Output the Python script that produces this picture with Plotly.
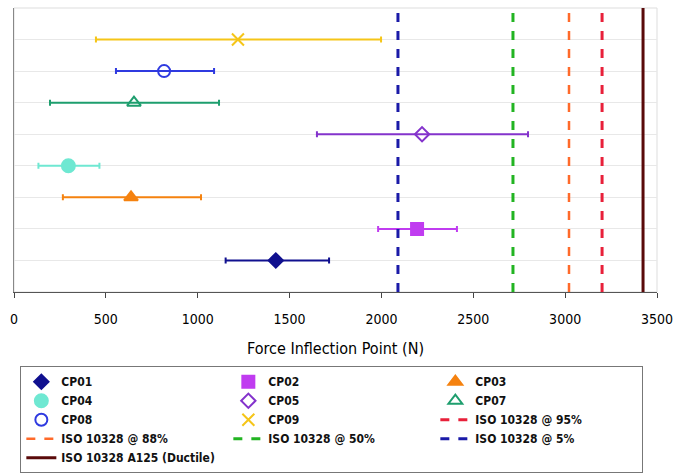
import plotly.graph_objects as go

# ---- data ----
names = ["CP01", "CP02", "CP03", "CP04", "CP05", "CP07", "CP08", "CP09"]
rows = [1, 2, 3, 4, 5, 6, 7, 8]
centers = [1425, 2194, 637, 296, 2221, 653, 817, 1219]
lows = [1152, 1982, 266, 133, 1649, 196, 555, 446]
highs = [1715, 2411, 1018, 465, 2798, 1116, 1089, 1998]

ref_names = ["ISO 10328 @ 95%", "ISO 10328 @ 88%", "ISO 10328 @ 50%",
             "ISO 10328 @ 5%", "ISO 10328 A125 (Ductile)"]
ref_values = [3201, 3021, 2716, 2090, 3424]

x_ticks = [0, 500, 1000, 1500, 2000, 2500, 3000, 3500]

# ---- styles ----
colors = ["#10108f", "#c03cf0", "#f5820f", "#6fe8d2", "#8433cc", "#1e9e6e", "#2f3ae0", "#f5c518"]
symbols = ["diamond", "square", "triangle-up", "circle", "diamond-open",
           "triangle-up-open", "circle-open", "x-thin-open"]
sizes = [11, 12, 12, 13, 11, 12, 12, 12]
ref_colors = ["#e8203a", "#ff6a2a", "#22b422", "#1a1aa8", "#5a0a0a"]
ref_dash = ["dash", "dash", "dash", "dash", "solid"]
ref_width = [3, 2.5, 3, 3, 3]

fig = go.Figure()

for i in range(len(names)):
    fig.add_trace(go.Scatter(
        x=[centers[i]], y=[rows[i]], mode="markers", name=names[i],
        marker=dict(symbol=symbols[i], color=colors[i], size=sizes[i],
                    line=dict(color=colors[i], width=2)),
        error_x=dict(type="data", symmetric=False,
                     array=[highs[i] - centers[i]],
                     arrayminus=[centers[i] - lows[i]],
                     color=colors[i], thickness=2, width=3),
    ))

for j in range(len(ref_names)):
    fig.add_trace(go.Scatter(
        x=[ref_values[j], ref_values[j]], y=[0, 9], mode="lines",
        name=ref_names[j],
        line=dict(color=ref_colors[j], dash=ref_dash[j], width=ref_width[j]),
    ))

fig.update_layout(
    width=678, height=475,
    margin=dict(l=14, r=21, t=8, b=183, autoexpand=False),
    plot_bgcolor="white", paper_bgcolor="white",
    font=dict(family="DejaVu Sans Condensed, DejaVu Sans", size=13, color="#111111"),
    showlegend=True,
    legend=dict(
        orientation="h", x=0.03, y=0.229, xref="container", yref="container",
        xanchor="left", yanchor="top",
        bordercolor="#777777", borderwidth=1,
        entrywidth=162, entrywidthmode="pixels",
        font=dict(family="DejaVu Sans Condensed, DejaVu Sans", size=12, color="#111111",
                  weight="bold"),
        tracegroupgap=0, itemwidth=30,
    ),
    xaxis=dict(
        range=[0, 3500], tickvals=x_ticks, ticks="outside", ticklen=5,
        tickcolor="#444444", showgrid=False, zeroline=False,
        showline=True, linecolor="#555555", linewidth=1, mirror=False,
        ticklabelstandoff=9,
        title=dict(text="Force Inflection Point (N)", font=dict(size=16, color="#000000"), standoff=17),
        tickfont=dict(size=14, color="#000000"),
    ),
    yaxis=dict(
        range=[0, 9], dtick=1, showticklabels=False, showgrid=True,
        gridcolor="#e8e8e8", zeroline=False, showline=True,
        linecolor="#888888", linewidth=1, ticks="",
    ),
    shapes=[dict(type="rect", xref="paper", yref="paper", x0=0, y0=0, x1=1, y1=1,
                 line=dict(color="#dddddd", width=1), layer="below")],
)

fig.write_html("out.html")
